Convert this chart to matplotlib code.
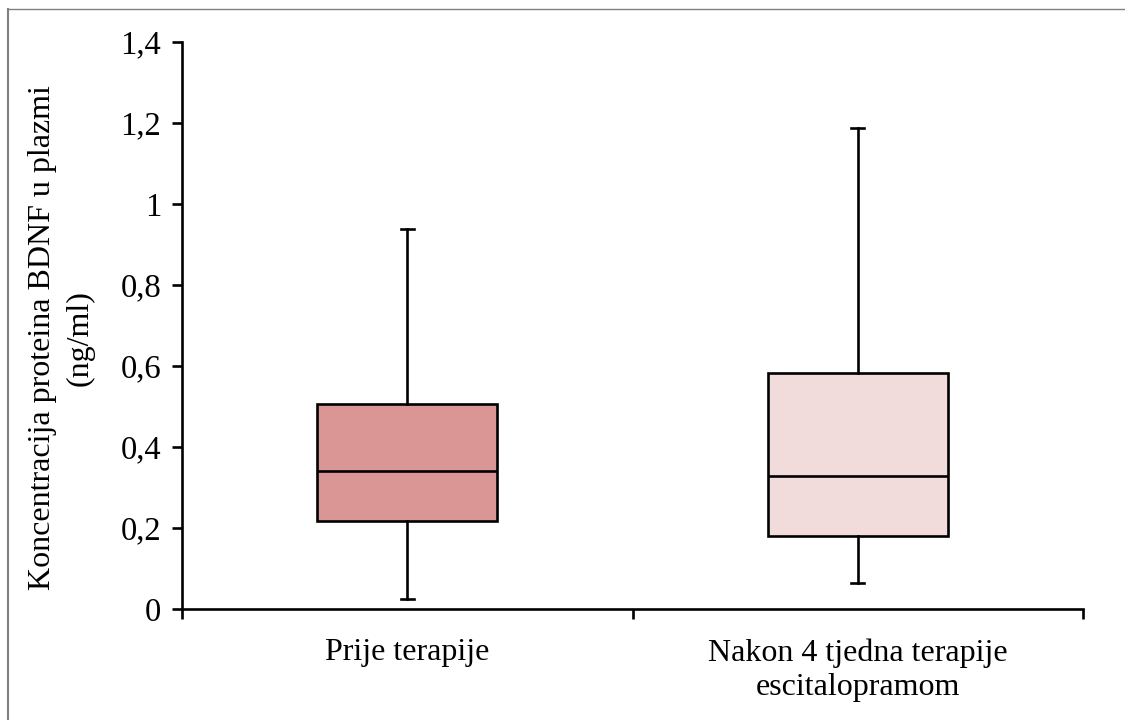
import matplotlib
matplotlib.use("Agg")
import matplotlib.pyplot as plt
from matplotlib.lines import Line2D

# ---- data ----
categories = ["Prije terapije", "Nakon 4 tjedna terapije\nescitalopramom"]
whisker_low = [0.025, 0.064]
q1 = [0.217, 0.180]
median = [0.341, 0.328]
q3 = [0.506, 0.583]
whisker_high = [0.938, 1.188]
box_colors = ["#D99694", "#F2DCDB"]
y_ticks = [0, 0.2, 0.4, 0.6, 0.8, 1.0, 1.2, 1.4]
y_tick_labels = ["0", "0,2", "0,4", "0,6", "0,8", "1", "1,2", "1,4"]
y_label = "Koncentracija proteina BDNF u plazmi\n(ng/ml)"

plt.rcParams["font.family"] = ["Liberation Serif", "DejaVu Serif"]

fig = plt.figure(figsize=(11.25, 7.2), dpi=100)
W, H = 1125, 720
ax = fig.add_axes([182 / W, 1 - 609 / H, (1083 - 182) / W, (609 - 42) / H])

stats = []
for i in range(len(categories)):
    stats.append(dict(med=median[i], q1=q1[i], q3=q3[i],
                      whislo=whisker_low[i], whishi=whisker_high[i],
                      fliers=[], label=categories[i]))

positions = list(range(1, len(categories) + 1))
lw = 1.9
bp = ax.bxp(stats, positions=positions, widths=0.4, patch_artist=True,
            showfliers=False, capwidths=0.028,
            boxprops=dict(linewidth=lw, edgecolor="black"),
            medianprops=dict(color="black", linewidth=lw),
            whiskerprops=dict(color="black", linewidth=lw),
            capprops=dict(color="black", linewidth=lw))
for patch, c in zip(bp["boxes"], box_colors):
    patch.set_facecolor(c)

ax.set_xlim(0.5, len(categories) + 0.5)
ax.set_ylim(0, 1.4)
ax.set_yticks(y_ticks)
ax.set_yticklabels(y_tick_labels, fontsize=23.5)
ax.set_xticks(positions)
ax.set_xticklabels(categories, fontsize=23, linespacing=1.25)
ax.set_xticks([p - 0.5 for p in positions] + [positions[-1] + 0.5], minor=True)
ax.tick_params(axis="x", which="major", length=0, pad=21)
ax.tick_params(axis="x", which="minor", length=7, width=lw, direction="out")
ax.tick_params(axis="y", which="major", length=7, width=lw, direction="out", pad=8)

for s in ["top", "right"]:
    ax.spines[s].set_visible(False)
for s in ["left", "bottom"]:
    ax.spines[s].set_linewidth(lw)

fig.text(61 / W, 1 - 338 / H, y_label, rotation=90, ha="center", va="center",
         multialignment="center", fontsize=23, linespacing=1.4)

# outer chart border (partially visible)
fig.add_artist(Line2D([8 / W, 8 / W], [0, 1 - 9 / H], transform=fig.transFigure,
                      color="#808080", linewidth=1.5))
fig.add_artist(Line2D([8 / W, 1], [1 - 9 / H, 1 - 9 / H], transform=fig.transFigure,
                      color="#808080", linewidth=1.0))

fig.savefig("out.png", dpi=100)
